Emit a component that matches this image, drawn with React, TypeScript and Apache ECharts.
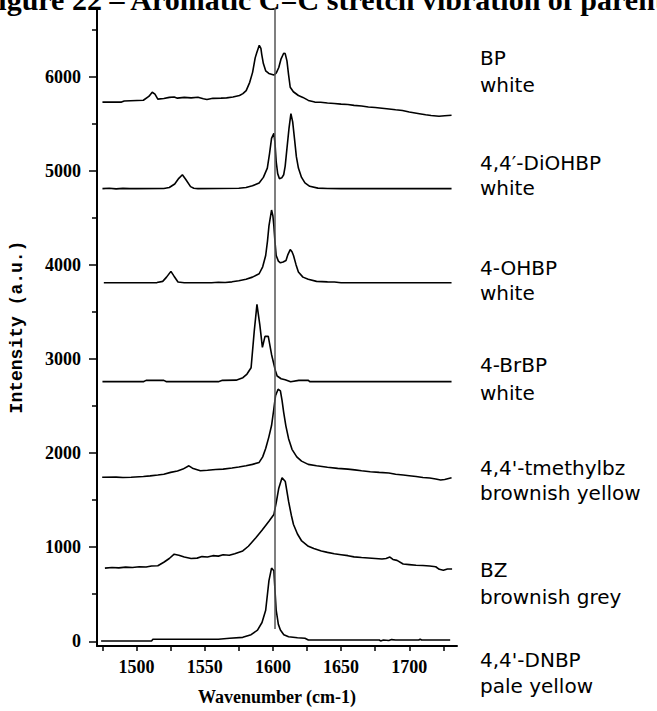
import React, { useEffect, useRef } from "react";
import * as echarts from "echarts";

// ---- data (wavenumber cm-1, intensity a.u. incl. offset) ----
const BP: [number, number][] = [
  [1475, 5730], [1489, 5730], [1491, 5742], [1505, 5750], [1509, 5790], [1511.5, 5835], [1513.5, 5815],
  [1515.6, 5762], [1520, 5768], [1524, 5780], [1527.6, 5785], [1530, 5772], [1535, 5780], [1540, 5775],
  [1545, 5782], [1549, 5765], [1551.6, 5758], [1556, 5770], [1562, 5772], [1566, 5775], [1570.7, 5785],
  [1575.5, 5800], [1578, 5820], [1580.4, 5852], [1583, 5940], [1585.1, 6046], [1587, 6200], [1588.2, 6256],
  [1590, 6333], [1591.2, 6300], [1591.8, 6238], [1593, 6140], [1594.7, 6063], [1597, 6035], [1600.7, 6017],
  [1602.5, 6040], [1604.3, 6098], [1606, 6190], [1607.9, 6249], [1609, 6245], [1610.3, 6168], [1611.5, 6020],
  [1612.7, 5888], [1615, 5840], [1618.7, 5800], [1622, 5780], [1626, 5748], [1630.7, 5730], [1635, 5728],
  [1640, 5720], [1645, 5715], [1650, 5708], [1655, 5705], [1659.5, 5695], [1665, 5688], [1670, 5678],
  [1675, 5672], [1680, 5665], [1683.5, 5660], [1690, 5648], [1695, 5640], [1700, 5625], [1707.4, 5607],
  [1712, 5595], [1716, 5588], [1721.8, 5579], [1726, 5585], [1731, 5590],
];
const DIOHBP: [number, number][] = [
  [1475, 4811], [1480, 4815], [1485, 4808], [1490, 4813], [1495, 4810], [1500, 4811], [1520, 4812],
  [1524, 4822], [1528, 4860], [1531, 4920], [1533.6, 4958], [1536, 4910], [1539.6, 4832], [1542, 4815],
  [1545, 4811], [1560, 4812], [1575, 4815], [1580.3, 4822], [1585, 4840], [1589.9, 4871], [1593, 4930],
  [1595.9, 5029], [1597.5, 5180], [1599, 5344], [1600.7, 5397], [1601.5, 5300], [1602.4, 5099],
  [1603.5, 4970], [1604.8, 4916], [1606.5, 4925], [1607.9, 4958], [1609, 5050], [1610.3, 5239],
  [1611.8, 5450], [1613.2, 5607], [1614.5, 5520], [1615.8, 5344], [1617.2, 5150], [1618.7, 5029],
  [1621, 4930], [1623.5, 4871], [1627, 4835], [1633, 4816], [1640, 4812], [1650, 4811], [1700, 4811],
  [1731, 4811],
];
const OHBP: [number, number][] = [
  [1476, 3811], [1490, 3811], [1500, 3811], [1515, 3812], [1519.2, 3825], [1522, 3870], [1525.2, 3931],
  [1527.5, 3880], [1530.4, 3818], [1535, 3811], [1555, 3811], [1560, 3815], [1565, 3813], [1570, 3820],
  [1575, 3832], [1580.3, 3847], [1585, 3870], [1589.9, 3906], [1592.5, 3980], [1594.7, 4100], [1596, 4250],
  [1597.1, 4415], [1599, 4583], [1600, 4520], [1600.7, 4415], [1601.5, 4250], [1602.4, 4100], [1604, 4040],
  [1605.5, 4022], [1607.5, 4030], [1609.6, 4047], [1611, 4110], [1612.7, 4163], [1614, 4140], [1615.1, 4100],
  [1617, 4000], [1618.7, 3924], [1622, 3870], [1625.9, 3847], [1632, 3825], [1640, 3820], [1645.1, 3818],
  [1650, 3811], [1700, 3811], [1731, 3811],
];
const BRBP: [number, number][] = [
  [1475, 2759], [1505, 2759], [1507, 2773], [1520, 2773], [1522, 2759], [1560, 2759], [1563, 2773],
  [1573, 2775], [1578, 2801], [1581, 2840], [1584, 2907], [1586.3, 3293], [1588.3, 3580], [1590.4, 3363],
  [1592.3, 3124], [1594.2, 3240], [1596.6, 3240], [1599, 3048], [1601.9, 2872], [1603.1, 2819],
  [1606, 2790], [1609, 2780], [1613, 2759], [1619, 2773], [1626, 2773], [1627, 2759], [1700, 2759],
  [1731, 2759],
];
const TMETHYLBZ: [number, number][] = [
  [1474.8, 1743], [1485, 1745], [1490, 1740], [1496, 1743], [1505, 1752], [1510, 1758], [1515.6, 1767],
  [1520, 1775], [1525, 1795], [1530, 1810], [1534, 1830], [1538.4, 1865], [1541, 1840], [1546.8, 1813],
  [1552, 1818], [1558, 1825], [1563.5, 1830], [1570, 1842], [1575, 1852], [1580.3, 1865], [1585, 1880],
  [1589.9, 1901], [1592.5, 1960], [1594.7, 2048], [1597, 2170], [1599, 2293], [1600.5, 2450],
  [1601.9, 2609], [1603.8, 2679], [1605.5, 2662], [1606.7, 2560], [1607.9, 2433], [1609.5, 2290],
  [1611.5, 2153], [1614, 2040], [1617.5, 1960], [1621, 1915], [1625.9, 1880], [1632, 1865], [1640, 1850],
  [1647.5, 1838], [1655, 1830], [1660, 1822], [1665, 1812], [1671.4, 1802], [1678, 1795], [1685, 1788],
  [1690, 1775], [1695.5, 1767], [1700, 1760], [1705, 1752], [1710, 1740], [1715, 1735], [1719.4, 1725],
  [1723, 1714], [1726, 1720], [1731, 1739],
];
const BZ: [number, number][] = [
  [1476.8, 778], [1482, 785], [1487, 780], [1492, 788], [1497, 785], [1502, 792], [1507, 790], [1511, 800],
  [1515.6, 803], [1520, 840], [1524, 880], [1527.6, 926], [1531, 915], [1535, 895], [1540, 880],
  [1544.4, 884], [1548, 900], [1552, 895], [1556, 910], [1560, 905], [1563.5, 919], [1568, 915],
  [1572, 930], [1577.9, 960], [1582, 1010], [1587.5, 1101], [1592, 1180], [1597.1, 1276], [1600.7, 1347],
  [1602.5, 1480], [1604.3, 1627], [1606.7, 1739], [1609.1, 1697], [1611.5, 1486], [1613.5, 1340],
  [1615.1, 1241], [1618, 1140], [1621.1, 1066], [1626, 1010], [1630, 985], [1635.5, 960], [1640, 945],
  [1645, 930], [1650, 920], [1655, 910], [1659.5, 897], [1665, 890], [1670, 885], [1675, 880], [1680, 875],
  [1683, 880], [1685.8, 895], [1688, 870], [1691, 860], [1695.5, 821], [1700, 815], [1705, 808],
  [1710, 805], [1715, 800], [1719.4, 792], [1722, 765], [1725, 755], [1728, 768], [1731.4, 768],
];
const DNBP: [number, number][] = [
  [1474, 3], [1511, 3], [1512, 21], [1560, 21], [1568.3, 32], [1577.9, 42], [1584, 70], [1588.7, 119],
  [1592, 200], [1594.7, 330], [1597.1, 645], [1599, 778], [1600.7, 750], [1601.5, 550], [1602.4, 330],
  [1604, 180], [1605.5, 119], [1608, 70], [1611.5, 49], [1618, 38], [1623.5, 32], [1626, 14], [1678, 14],
  [1679, 4], [1681, 14], [1685, 8], [1687, 18], [1690, 14], [1707, 14], [1708, 24], [1709, 14], [1730, 14],
];

const SAMPLE_NAMES = ["BP", "4,4′-DiOHBP", "4-OHBP", "4-BrBP", "4,4'-tmethylbz", "BZ", "4,4'-DNBP"];
const SAMPLE_COLOURS = ["white", "white", "white", "white", "brownish yellow", "brownish grey", "pale yellow"];
const SPECTRA = [BP, DIOHBP, OHBP, BRBP, TMETHYLBZ, BZ, DNBP];

const Y_MAJOR = [0, 1000, 2000, 3000, 4000, 5000, 6000];
const Y_MINOR = [500, 1500, 2500, 3500, 4500, 5500, 6500];
const X_LABELS = [1500, 1550, 1600, 1650, 1700];
const X_TICKS = [1475, 1500, 1525, 1550, 1575, 1600, 1625, 1650, 1675, 1700, 1725];
const REF_LINE_X = 1601;
const REF_LINE_Y = [130, 6730];

const TITLE = "Figure 22 – Aromatic C=C stretch vibration of parent";

// layout
const LABEL_Y = [[58, 85], [163, 188], [268, 293], [365, 393], [468, 493], [570, 597], [660, 686]];

export default function App() {
  const ref = useRef<HTMLDivElement>(null);
  useEffect(() => {
    const chart = echarts.init(ref.current!, null, { renderer: "svg" });
    const serif = "'Liberation Serif', 'Times New Roman', serif";
    const labelFont = "'DejaVu Sans', Verdana, sans-serif";
    const graphics: any[] = [
      {
        type: "text",
        x: -20,
        y: -16,
        style: { text: TITLE, font: `bold 30px ${serif}`, fill: "#000" },
      },
    ];
    SAMPLE_NAMES.forEach((n, i) => {
      graphics.push({
        type: "text",
        x: 480,
        y: LABEL_Y[i][0],
        style: { text: n, font: `20px ${labelFont}`, fill: "#000", verticalAlign: "middle" },
      });
      graphics.push({
        type: "text",
        x: 480,
        y: LABEL_Y[i][1],
        style: { text: SAMPLE_COLOURS[i], font: `20px ${labelFont}`, fill: "#000", verticalAlign: "middle" },
      });
    });

    const series: any[] = SPECTRA.map((d, i) => ({
      type: "line",
      name: SAMPLE_NAMES[i],
      data: d,
      showSymbol: false,
      symbol: "none",
      lineStyle: { color: "#000", width: 1.6 },
      z: 2,
    }));
    series.push({
      type: "line",
      name: "ref",
      data: [],
      markLine: {
        silent: true,
        symbol: "none",
        label: { show: false },
        lineStyle: { color: "#555", width: 1.5, type: "solid" },
        data: [[{ coord: [REF_LINE_X, REF_LINE_Y[0]] }, { coord: [REF_LINE_X, REF_LINE_Y[1]] }]],
      },
      z: 3,
    });

    const plain = (v: number) => String(v);

    chart.setOption({
      animation: false,
      backgroundColor: "#fff",
      grid: { left: 90, right: 200, top: 8, bottom: 58, containLabel: false },
      xAxis: {
        type: "value",
        min: 1471,
        max: 1735,
        axisLine: { show: true, onZero: false, lineStyle: { color: "#000", width: 2 } },
        axisTick: { show: true, length: 5, customValues: X_TICKS, lineStyle: { color: "#000", width: 1.5 } },
        axisLabel: {
          customValues: X_LABELS,
          formatter: plain,
          fontFamily: serif,
          fontWeight: "bold",
          fontSize: 18,
          color: "#000",
          margin: 12,
        },
        splitLine: { show: false },
        name: "Wavenumber (cm-1)",
        nameLocation: "middle",
        nameGap: 42,
        nameTextStyle: { fontFamily: serif, fontWeight: "bold", fontSize: 18, color: "#000" },
      },
      yAxis: [
        {
          type: "value",
          min: -50,
          max: 6730,
          position: "left",
          axisLine: { show: true, lineStyle: { color: "#000", width: 2 } },
          axisTick: { show: true, length: 8, customValues: Y_MAJOR, lineStyle: { color: "#000", width: 1.5 } },
          axisLabel: {
            customValues: Y_MAJOR,
            formatter: plain,
            fontFamily: serif,
            fontWeight: "bold",
            fontSize: 18,
            color: "#000",
            margin: 16,
          },
          splitLine: { show: false },
          name: "Intensity (a.u.)",
          nameLocation: "middle",
          nameGap: 71,
          nameTextStyle: { fontFamily: "'Liberation Mono', 'Courier New', monospace", fontWeight: "bold", fontSize: 18, color: "#000" },
        },
        {
          type: "value",
          min: -50,
          max: 6730,
          position: "left",
          axisLine: { show: false },
          axisTick: { show: true, length: 5, customValues: Y_MINOR, lineStyle: { color: "#000", width: 1.5 } },
          axisLabel: { show: false },
          splitLine: { show: false },
        },
      ],
      graphic: graphics,
      series,
    });
    return () => chart.dispose();
  }, []);
  return <div ref={ref} style={{ position: "fixed", left: 0, top: 0, width: 657, height: 711 }} />;
}
